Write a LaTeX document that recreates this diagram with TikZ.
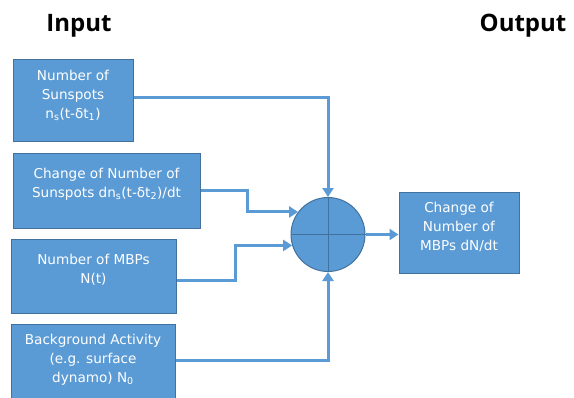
\documentclass[tikz,border=0pt]{standalone}
\usepackage{fontspec}
\setmainfont{DejaVu Sans}
\newfontfamily\titlefont{Open Sans}
\usetikzlibrary{arrows.meta,calc}
\definecolor{boxblue}{HTML}{5B9BD5}
\definecolor{edgeblue}{HTML}{41719C}
\tikzset{
  box/.style={draw=edgeblue, line width=1pt, fill=boxblue, rectangle, inner sep=0pt},
  boxtext/.style={text=white, align=center, font=\fontsize{13.6}{19}\selectfont, inner sep=0pt},
  conn/.style={draw=boxblue, line width=3pt, -{Triangle[length=9pt,width=11pt]}},
  title/.style={font=\titlefont\bfseries\fontsize{24}{28}\selectfont, text=black}
}
\begin{document}
\begin{tikzpicture}[x=1pt,y=-1pt]
\useasboundingbox (0,0) rectangle (574,397);
\node[title] (tin) at (79,26) {Input};
\node[title] (tout) at (523,26) {Output};
\node[box, minimum width=120pt, minimum height=82pt] (b1) at (73,100) {};
\node[boxtext] (t1) at (73,95) {Number of\\Sunspots\\n\textsubscript{s}(t-δt\textsubscript{1})};
\node[box, minimum width=187pt, minimum height=75pt] (b2) at (106.5,190.5) {};
\node[boxtext] (t2) at (106.5,184) {Change of Number of\\Sunspots dn\textsubscript{s}(t-δt\textsubscript{2})/dt};
\node[box, minimum width=165pt, minimum height=74pt] (b3) at (93.5,276) {};
\node[boxtext] (t3) at (93.5,270) {Number of MBPs\\N(t)};
\node[box, minimum width=164pt, minimum height=78pt] (b4) at (93,363) {};
\node[boxtext] (t4) at (93,360) {Background Activity\\(e.g. surface\\dynamo) N\textsubscript{0}};
\node[box, circle, minimum size=74pt] (c) at (328,234.5) {};
\draw[edgeblue, line width=1pt] (c.north) -- (c.south) (c.west) -- (c.east);
\node[box, minimum width=120pt, minimum height=81pt] (o) at (459,232.5) {};
\node[boxtext] (to) at (459,227) {Change of\\Number of\\MBPs dN/dt};
\draw[conn] ([yshift=3pt]b1.east) -| (c.north);
\draw[conn] (b2.east) -| ([xshift=-51pt]c.143) -- (c.143);
\draw[conn] ([yshift=-4pt]b3.east) -| ([xshift=-57pt]c.197) -- (c.197);
\draw[conn] ([yshift=3pt]b4.east) -| (c.south);
\draw[conn] (c.east) -- (c.east -| o.west);
\end{tikzpicture}
\end{document}
